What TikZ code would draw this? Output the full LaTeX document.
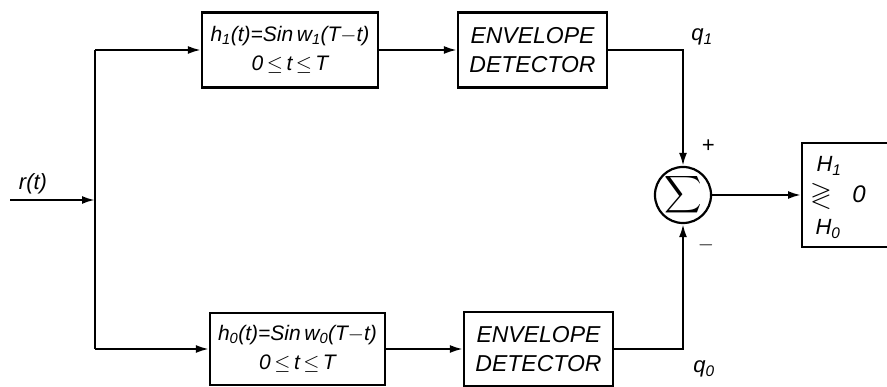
\documentclass[tikz,border=0pt]{standalone}
\usepackage{amssymb}
\usepackage{fontspec}
\setmainfont{Liberation Sans}
\usetikzlibrary{arrows.meta}
\begin{document}
\begin{tikzpicture}[x=1pt,y=-1pt, line width=2.2pt,
  blk/.style={draw, rectangle, inner sep=0pt, align=center, font=\fontsize{21}{29}\selectfont\itshape},
  det/.style={blk, font=\fontsize{23}{29}\selectfont\itshape},
  arr/.style={-{Latex[length=13pt,width=8pt]}},
  lbl/.style={inner sep=0pt, font=\fontsize{22}{24}\selectfont\itshape}]
\useasboundingbox (0,0) rectangle (887,387);
% input and branching
\coordinate (in) at (10,200);
\coordinate (j) at (95,200);
\coordinate (jt) at (95,50);
\coordinate (jb) at (95,349);
\node[lbl] (rt) at (33,184) {r(t)};
% blocks
\node[blk, minimum width=176pt, minimum height=75pt] (f1) at (290,50)
  {h\textsubscript{1}(t)=Sin\,w\textsubscript{1}(T$-$t)\\ 0\,$\leq$\,t\,$\leq$\,T};
\node[det, minimum width=149pt, minimum height=75pt] (e1) at (532.5,50)
  {ENVELOPE\\DETECTOR};
\node[blk, minimum width=175pt, minimum height=72pt] (f0) at (297.5,349)
  {h\textsubscript{0}(t)=Sin\,w\textsubscript{0}(T$-$t)\\ 0\,$\leq$\,t\,$\leq$\,T};
\node[det, minimum width=149pt, minimum height=74pt] (e0) at (538.5,349)
  {ENVELOPE\\DETECTOR};
% summer
\node[draw, circle, minimum size=48pt, inner sep=0pt] (sum) at (683,195)
  {\fontsize{26}{28}\selectfont$\displaystyle\sum$};
% decision box (cut off at the right edge)
\node[draw, rectangle, minimum width=100pt, minimum height=104pt, anchor=west] (dec) at (801,195) {};
\node[lbl] (h1) at (829,166) {H\textsubscript{1}};
\node[inner sep=0pt] (gl) at (821,196) {\fontsize{28}{30}\selectfont$\gtrless$};
\node[lbl, font=\fontsize{24}{26}\selectfont\itshape] (zero) at (859,194) {0};
\node[lbl] (h0) at (828,229) {H\textsubscript{0}};
% labels
\node[lbl] (q1) at (702,37) {q\textsubscript{1}};
\node[lbl] (q0) at (704,369) {q\textsubscript{0}};
\node[lbl] (plus) at (708,146) {+};
\node[lbl] (minus) at (706,245) {$-$};
% connectors
\draw[arr] (in) -- (j);
\draw (jt) -- (jb);
\draw[arr] (jt) -- (f1.west);
\draw[arr] (jb) -- (f0.west);
\draw[arr] (f1) -- (e1);
\draw[arr] (f0) -- (e0);
\draw[arr] (e1.east) -| (sum.north);
\draw[arr] (e0.east) -| (sum.south);
\draw[arr] (sum) -- (dec.west);
\end{tikzpicture}
\end{document}
